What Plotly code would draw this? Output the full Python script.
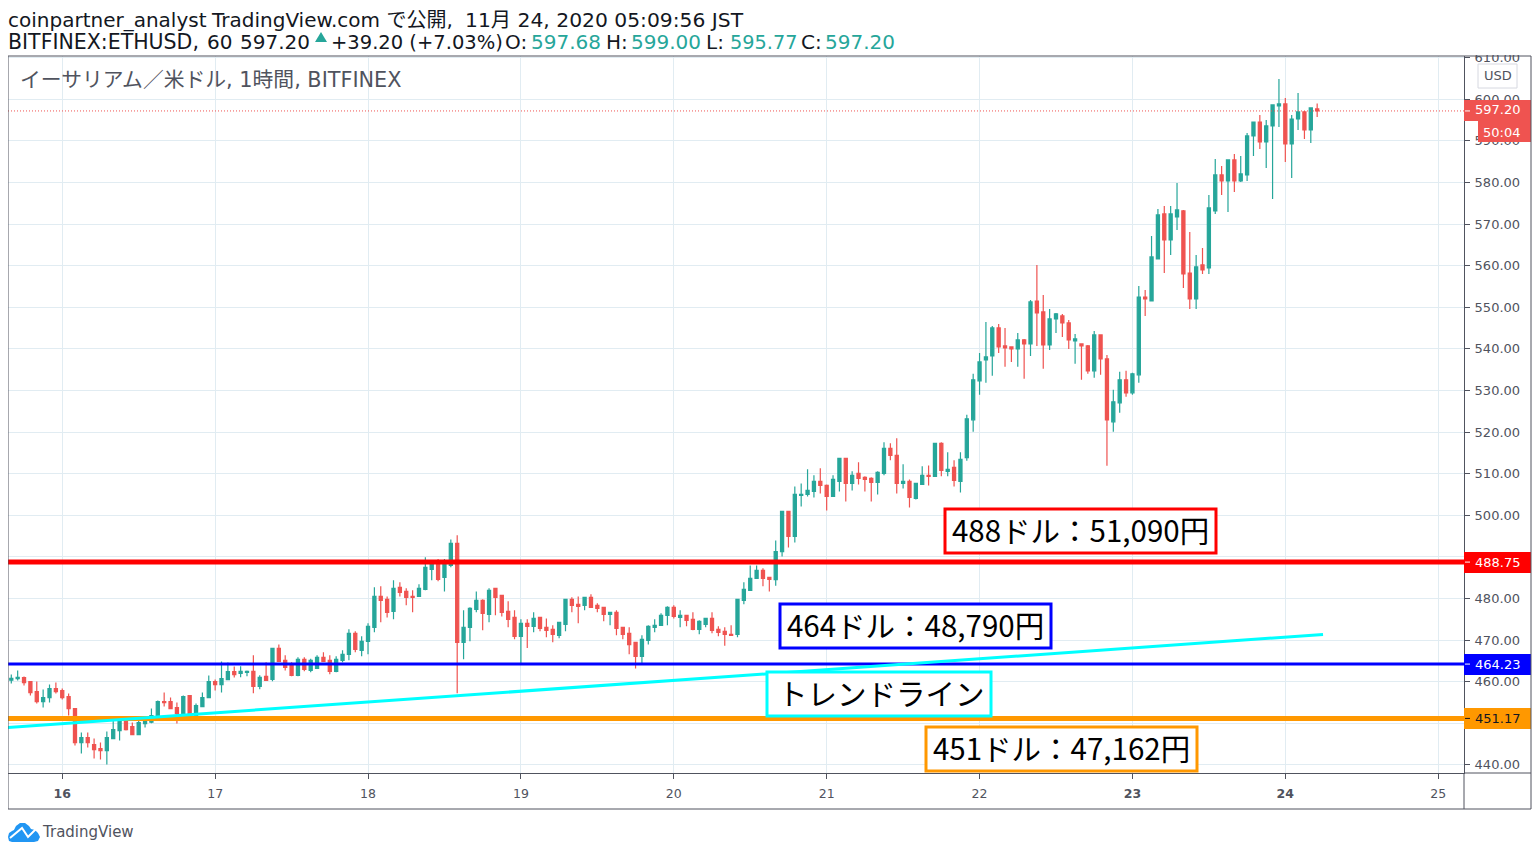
import pandas as pd
import plotly.graph_objects as go

# hourly candles, Nov 15 16:00 -> Nov 24 05:00 (JST)
opens = [
    460.35, 460.75, 460.99, 460.03, 457.63, 455.22, 456.19, 458.35, 457.87, 456.43,
    453.54, 445.37, 446.57, 444.89, 443.93, 443.45, 446.33, 448.25, 450.66, 449.20,
    447.29, 449.94, 450.26, 451.86, 455.22, 455.22, 453.78, 452.34, 456.67, 451.86,
    454.02, 456.19, 460.03, 459.31, 460.51, 462.44, 462.00, 462.24, 462.48, 458.88,
    461.28, 460.56, 468.01, 465.13, 463.93, 461.52, 465.37, 462.72, 463.21, 465.85,
    465.13, 462.48, 465.13, 466.57, 471.62, 467.53, 469.70, 473.06, 480.50, 479.79,
    476.90, 482.68, 481.71, 480.50, 480.50, 482.20, 487.00, 488.40, 485.08, 487.96,
    493.25, 469.46, 473.06, 477.39, 479.55, 476.19, 482.44, 480.75, 476.90, 475.46,
    470.90, 474.02, 473.30, 475.46, 473.06, 472.58, 471.14, 473.78, 479.79, 478.59,
    478.35, 480.27, 478.35, 477.87, 476.19, 476.67, 473.06, 471.62, 469.46, 466.09,
    469.94, 473.06, 473.54, 475.94, 477.87, 475.46, 475.94, 474.98, 472.58, 473.78,
    475.22, 472.58, 472.10, 471.38, 471.38, 479.55, 481.96, 484.84, 486.76, 485.08,
    484.54, 491.29, 500.92, 494.90, 504.78, 505.02, 505.74, 508.15, 507.19, 504.54,
    508.15, 513.69, 507.67, 510.08, 509.12, 508.88, 507.91, 510.08, 516.10, 514.42,
    507.67, 508.15, 504.06, 507.43, 509.60, 509.36, 517.31, 510.56, 511.53, 508.15,
    513.84, 522.96, 532.32, 537.36, 538.32, 545.04, 540.72, 540.48, 540.00, 542.16,
    541.20, 551.52, 548.88, 540.96, 547.20, 547.92, 546.24, 541.92, 541.20, 540.72,
    534.72, 543.36, 537.60, 522.48, 527.04, 532.56, 529.44, 533.76, 552.48, 551.52,
    561.62, 572.44, 566.19, 571.71, 573.16, 558.25, 552.00, 560.18, 559.46, 573.16,
    581.81, 580.37, 585.42, 580.37, 581.81, 591.19, 594.55, 589.74, 593.59, 598.40,
    598.88, 589.26, 595.27, 596.96, 592.63, 597.68,
]
highs = [
    461.70, 462.68, 461.23, 460.03, 460.03, 458.11, 459.31, 459.79, 458.35, 457.15,
    453.54, 447.77, 447.77, 446.33, 445.37, 448.01, 450.66, 451.50, 451.50, 450.18,
    451.50, 451.50, 453.54, 455.46, 457.39, 456.19, 454.98, 456.67, 456.67, 454.74,
    457.39, 461.47, 460.51, 464.84, 464.60, 463.64, 463.69, 462.72, 466.33, 461.52,
    464.65, 468.01, 468.97, 466.33, 464.65, 465.85, 465.85, 465.50, 466.33, 467.05,
    466.33, 466.09, 467.53, 472.58, 472.10, 470.90, 474.02, 482.68, 482.92, 480.50,
    484.36, 483.88, 482.44, 481.96, 483.40, 489.89, 489.00, 489.50, 489.50, 494.20,
    495.18, 477.15, 477.87, 481.71, 479.79, 482.44, 482.44, 480.75, 479.31, 477.15,
    474.98, 474.98, 476.67, 475.46, 475.22, 473.54, 474.26, 479.79, 480.27, 480.50,
    480.27, 480.99, 478.83, 477.87, 476.67, 477.15, 473.06, 473.06, 469.46, 471.14,
    473.54, 474.98, 476.43, 478.11, 478.35, 477.15, 475.94, 476.67, 474.74, 475.22,
    476.67, 473.30, 473.06, 473.54, 479.79, 483.88, 487.96, 487.96, 487.24, 485.08,
    493.94, 500.92, 500.92, 506.95, 507.67, 511.04, 509.60, 511.29, 507.43, 509.60,
    513.69, 513.69, 510.56, 512.73, 509.36, 509.12, 510.56, 517.55, 517.31, 518.51,
    512.25, 508.63, 507.67, 511.77, 512.00, 517.31, 517.55, 515.14, 513.21, 515.14,
    524.16, 534.00, 539.04, 546.48, 545.52, 546.00, 545.04, 540.48, 543.84, 542.40,
    551.76, 560.16, 552.96, 549.60, 548.64, 548.40, 546.96, 543.60, 541.20, 540.96,
    544.32, 543.36, 538.56, 530.16, 534.48, 534.72, 534.24, 555.12, 554.16, 567.15,
    573.64, 574.36, 574.36, 579.89, 573.40, 568.11, 562.58, 564.26, 577.00, 585.66,
    583.97, 585.42, 586.86, 586.38, 591.91, 594.55, 596.23, 595.03, 598.64, 604.89,
    600.32, 596.23, 601.52, 597.20, 597.92, 599.00,
]
lows = [
    459.55, 460.27, 459.07, 456.67, 454.74, 453.78, 454.98, 457.15, 455.71, 451.86,
    444.65, 442.72, 444.17, 441.52, 441.28, 440.08, 446.33, 445.85, 448.25, 447.29,
    447.29, 448.97, 450.00, 451.40, 454.02, 453.54, 449.94, 451.86, 452.00, 451.62,
    454.02, 456.19, 457.87, 457.39, 460.51, 460.99, 461.04, 461.28, 457.20, 458.16,
    460.32, 460.08, 464.89, 462.72, 461.28, 461.28, 462.48, 462.24, 463.21, 464.89,
    461.76, 462.24, 464.65, 465.13, 467.05, 466.09, 466.57, 471.86, 474.26, 475.46,
    474.98, 480.50, 478.35, 476.67, 480.50, 481.96, 484.36, 484.12, 481.71, 487.50,
    457.20, 465.37, 469.70, 476.67, 472.34, 474.26, 476.00, 475.70, 473.06, 470.18,
    464.30, 468.10, 471.86, 472.10, 470.66, 469.46, 470.42, 472.10, 476.67, 474.02,
    477.15, 477.87, 476.67, 474.50, 473.54, 471.14, 470.18, 466.57, 463.20, 464.30,
    468.97, 471.86, 473.54, 473.54, 475.22, 473.06, 473.30, 472.34, 471.38, 473.06,
    471.62, 470.90, 468.65, 471.14, 470.66, 478.59, 481.96, 484.84, 482.92, 481.70,
    483.09, 490.08, 492.25, 493.45, 502.13, 504.54, 504.30, 505.26, 501.16, 504.54,
    505.74, 503.33, 505.98, 507.43, 505.74, 503.33, 505.02, 509.60, 513.21, 505.26,
    506.47, 501.89, 503.82, 507.43, 507.19, 509.36, 509.36, 509.36, 506.95, 505.50,
    513.12, 520.08, 528.96, 531.84, 533.52, 539.04, 535.68, 536.88, 535.68, 532.80,
    538.32, 540.72, 535.20, 539.76, 543.84, 542.88, 540.00, 536.40, 532.56, 534.00,
    533.04, 533.76, 511.92, 520.08, 524.64, 528.48, 528.96, 531.84, 547.92, 551.52,
    561.62, 558.25, 562.58, 568.59, 554.65, 549.60, 549.60, 558.01, 558.01, 572.44,
    577.00, 572.92, 577.72, 580.13, 580.37, 586.38, 588.06, 583.49, 576.04, 593.35,
    584.94, 581.09, 592.63, 590.46, 589.50, 595.77,
]
closes = [
    460.83, 461.07, 459.79, 457.39, 455.22, 456.19, 458.35, 457.63, 456.19, 453.54,
    445.37, 446.57, 445.37, 443.69, 443.45, 446.57, 448.49, 450.66, 448.49, 447.29,
    450.18, 450.50, 451.86, 455.22, 454.98, 453.54, 452.34, 456.43, 452.34, 454.26,
    456.19, 460.03, 459.31, 460.75, 462.44, 461.71, 462.48, 462.48, 458.88, 461.04,
    460.32, 468.01, 464.89, 463.45, 461.52, 465.37, 462.96, 465.13, 465.85, 464.89,
    462.48, 465.37, 466.57, 471.62, 467.77, 469.70, 473.30, 480.50, 479.55, 476.67,
    482.44, 481.47, 480.27, 480.27, 482.44, 487.48, 488.30, 484.60, 488.40, 493.25,
    469.46, 473.06, 477.63, 479.55, 476.43, 481.96, 480.27, 476.67, 474.98, 470.90,
    474.02, 473.30, 475.22, 472.82, 472.34, 471.38, 474.26, 479.79, 478.35, 478.11,
    480.27, 477.87, 477.63, 476.19, 476.67, 472.82, 471.38, 468.89, 466.09, 470.18,
    473.30, 473.54, 475.94, 477.87, 475.70, 475.94, 474.74, 472.58, 474.50, 475.22,
    472.34, 471.86, 471.38, 471.14, 479.79, 482.20, 484.84, 486.76, 484.84, 484.60,
    491.29, 500.92, 494.90, 505.02, 505.02, 505.98, 508.15, 507.19, 504.54, 508.63,
    513.69, 507.67, 509.60, 508.88, 508.63, 507.91, 510.32, 516.10, 514.42, 507.67,
    508.15, 504.30, 507.67, 509.60, 509.36, 517.31, 510.80, 511.04, 508.39, 513.45,
    523.20, 532.56, 536.88, 538.08, 545.04, 540.48, 540.24, 540.00, 542.16, 541.20,
    551.28, 548.64, 540.96, 547.20, 548.40, 546.24, 542.16, 542.40, 540.72, 534.72,
    543.36, 537.60, 522.96, 527.28, 532.56, 529.44, 534.00, 552.48, 552.00, 562.10,
    572.20, 566.19, 572.44, 573.40, 558.01, 552.00, 559.70, 558.97, 573.88, 581.81,
    580.37, 585.42, 580.37, 582.05, 591.19, 594.55, 589.74, 593.59, 598.64, 598.88,
    589.26, 595.27, 596.96, 592.63, 597.92, 597.20,
]
times = pd.date_range("2020-11-15 16:00", periods=len(opens), freq="h")

day_ticks = ["2020-11-%02d" % d for d in range(16, 26)]
day_labels = ["<b>16</b>", "17", "18", "19", "20", "21", "22", "<b>23</b>", "<b>24</b>", "25"]
price_ticks = list(range(440, 620, 10))

trend_x = ["2020-11-15 15:29", "2020-11-24 05:55"]
trend_y = [448.99, 471.35]

last_price = 597.20
red_level = 488.75
blue_level = 464.23
orange_level = 451.17

UP = "#26a69a"
DOWN = "#ef5350"
TEXT = "#131722"
AXIS = "#50535e"
GRID = "#e1ecf2"
FONT = "'DejaVu Sans', 'Noto Sans CJK JP', sans-serif"
JP_FONT = "'Noto Sans CJK JP', sans-serif"

# plot area in page pixels; the page body adds 8px on the left and top
L, R, T, B = 8, 1464, 56, 773
BODY = 8
FIG_W, FIG_H = 1524, 840
PAD = 2  # annotations sit this far right of their anchor


def px(x):
    return (x - L) / (R - L)


def py(y):
    return (B - y) / (B - T)


def text_at(x, y, text, size=20, color=TEXT, family=FONT, anchor="left", **kw):
    if anchor == "left":
        x -= PAD
    return dict(
        text=text, xref="paper", yref="paper", x=px(x), y=py(y),
        xanchor=anchor, yanchor="middle", showarrow=False,
        font=dict(size=size, color=color, family=family), **kw,
    )


def rect(x0, y0, x1, y1, line=None, width=0, fill=None, layer="above"):
    return dict(
        type="rect", xref="paper", yref="paper",
        x0=px(x0), x1=px(x1), y0=py(y0), y1=py(y1),
        line=dict(color=line or "rgba(0,0,0,0)", width=width),
        fillcolor=fill or "rgba(0,0,0,0)", layer=layer,
    )


def poly(points, fill=None, line=None, width=0, close=True):
    d = "M " + " L ".join("%.5f %.5f" % (px(a), py(b)) for a, b in points)
    if close:
        d += " Z"
    return dict(
        type="path", xref="paper", yref="paper", path=d, layer="above",
        fillcolor=fill or "rgba(0,0,0,0)",
        line=dict(color=line or "rgba(0,0,0,0)", width=width),
    )


def level(price, color, width):
    return dict(
        type="line", xref="paper", yref="y", x0=0, x1=1, y0=price, y1=price,
        line=dict(color=color, width=width), layer="above",
    )


def tag_tick(price, color):
    return dict(
        type="line", xref="paper", yref="y", x0=px(1465), x1=px(1470), y0=price, y1=price,
        line=dict(color=color, width=1), layer="above",
    )


fig = go.Figure()
fig.add_trace(go.Candlestick(
    x=times, open=opens, high=highs, low=lows, close=closes,
    increasing=dict(line=dict(color=UP, width=1.2), fillcolor=UP),
    decreasing=dict(line=dict(color=DOWN, width=1.2), fillcolor=DOWN),
    whiskerwidth=0,
    showlegend=False,
))

shapes = [
    dict(type="line", xref="paper", yref="y", x0=0, x1=1, y0=last_price, y1=last_price,
         line=dict(color=DOWN, width=1, dash="1px,2px"), layer="above"),
    level(red_level, "#ff0000", 5),
    level(blue_level, "#0000ff", 3),
    level(orange_level, "#ff9800", 5),
    dict(type="line", xref="x", yref="y", x0=trend_x[0], x1=trend_x[1], y0=trend_y[0], y1=trend_y[1],
         line=dict(color="#00ffff", width=3), layer="above"),
    # text boxes
    rect(945, 509, 1216, 553, line="#ff0000", width=3, fill="#ffffff"),
    rect(780, 604, 1051, 648, line="#0000ff", width=3, fill="#ffffff"),
    rect(767, 672, 991, 716, line="#00ffff", width=3, fill="#ffffff"),
    rect(926, 727, 1197, 771, line="#ff9800", width=3, fill="#ffffff"),
    # hides the top of the 610.00 label
    rect(1465, 44, 1530, 55, fill="#ffffff"),
    # price axis tags
    rect(1464, 100, 1531, 121, fill=DOWN),
    rect(1478, 121, 1531, 142, fill=DOWN),
    rect(1464, 552, 1531, 573, fill="#ff0000"),
    rect(1464, 654, 1531, 675, fill="#0000ff"),
    rect(1464, 708, 1531, 729, fill="#ff9800"),
    tag_tick(last_price, "#ffffff"),
    tag_tick(red_level, "#ffffff"),
    tag_tick(blue_level, "#ffffff"),
    tag_tick(orange_level, TEXT),
    rect(1478, 64, 1517, 88, line="#d6d8e0", width=1, fill="#ffffff"),
    # frame
    rect(8, 56, 1531, 809, line=AXIS, width=1),
    dict(type="line", xref="paper", yref="paper", x0=px(1464), x1=px(1464), y0=py(773), y1=py(809),
         line=dict(color=AXIS, width=1), layer="above"),
    dict(type="line", xref="paper", yref="paper", x0=px(1464), x1=px(1531), y0=py(773), y1=py(773),
         line=dict(color=AXIS, width=1), layer="above"),
    # little triangle in the header
    poly([(315, 42), (321, 32), (327, 42)], fill=UP),
    # logo
    poly([(8, 837), (9, 833), (12, 831), (14, 830), (16, 826), (20, 823), (25, 823), (29, 826),
          (31, 829), (35, 830), (38, 833), (40, 837), (38, 841), (34, 842), (12, 842), (9, 841)],
         fill="#2196f3"),
    poly([(10, 838), (22, 828), (28, 837), (38, 827)], line="#ffffff", width=2, close=False),
]

annotations = [
    text_at(8, 20, "coinpartner_analyst"),
    text_at(211, 20, "TradingView.com で公開,"),
    text_at(465, 20, "11月 24, 2020 05:09:56 JST", size=20.3),
    text_at(8, 42, "BITFINEX:ETHUSD,", size=20.5),
    text_at(207, 42, "60"),
    text_at(240, 42, "597.20"),
    text_at(331, 42, "+39.20 (+7.03%)", size=19.5),
    text_at(505, 42, "O:"), text_at(531, 42, "597.68", color=UP),
    text_at(606, 42, "H:"), text_at(631, 42, "599.00", color=UP),
    text_at(706, 42, "L:"), text_at(730, 42, "595.77", size=19.3, color=UP),
    text_at(801, 42, "C:"), text_at(825, 42, "597.20", color=UP),
    text_at(20, 80, "イーサリアム／米ドル, 1時間, BITFINEX", size=20.8, color=AXIS),
    text_at(1080, 529, "488ドル：51,090円", size=29.5, color="#000000", family=JP_FONT, anchor="center"),
    text_at(915, 624, "464ドル：48,790円", size=29.5, color="#000000", family=JP_FONT, anchor="center"),
    text_at(881, 692, "トレンドライン", size=29.5, color="#000000", family=JP_FONT, anchor="center"),
    text_at(1061, 747, "451ドル：47,162円", size=29.5, color="#000000", family=JP_FONT, anchor="center"),
    text_at(1498, 110, "597.20", size=13, color="#ffffff", anchor="center"),
    text_at(1502, 132, "50:04", size=13, color="#ffffff", anchor="center"),
    text_at(1498, 562, "488.75", size=13, color="#ffffff", anchor="center"),
    text_at(1498, 664, "464.23", size=13, color="#ffffff", anchor="center"),
    text_at(1498, 718, "451.17", size=13, color=TEXT, anchor="center"),
    text_at(1498, 76, "USD", size=13, color=AXIS, anchor="center"),
    text_at(42, 832, "TradingView", size=15, color=AXIS),
]

fig.update_layout(
    width=FIG_W,
    height=FIG_H,
    margin=dict(l=L - BODY, r=FIG_W + BODY - R, t=T - BODY, b=FIG_H + BODY - B, autoexpand=False),
    paper_bgcolor="#ffffff",
    plot_bgcolor="#ffffff",
    font=dict(family=FONT, size=13, color=AXIS),
    showlegend=False,
    shapes=shapes,
    annotations=annotations,
    xaxis=dict(
        range=["2020-11-15 15:29", "2020-11-25 04:03"],
        rangeslider=dict(visible=False),
        tickmode="array", tickvals=day_ticks, ticktext=day_labels,
        ticks="outside", ticklen=5, tickcolor=AXIS,
        tickfont=dict(size=12.5),
        ticklabelstandoff=4,
        showline=True, linecolor=AXIS, linewidth=1,
        showgrid=True, gridcolor=GRID, gridwidth=1,
        zeroline=False,
    ),
    yaxis=dict(
        range=[438.05, 610.41],
        side="right",
        tickmode="array", tickvals=price_ticks, tickformat=".2f",
        ticks="outside", ticklen=5, tickcolor=AXIS,
        ticklabelstandoff=2,
        showline=True, linecolor=AXIS, linewidth=1,
        showgrid=True, gridcolor=GRID, gridwidth=1,
        zeroline=False,
    ),
)

fig.write_html("out.html")
